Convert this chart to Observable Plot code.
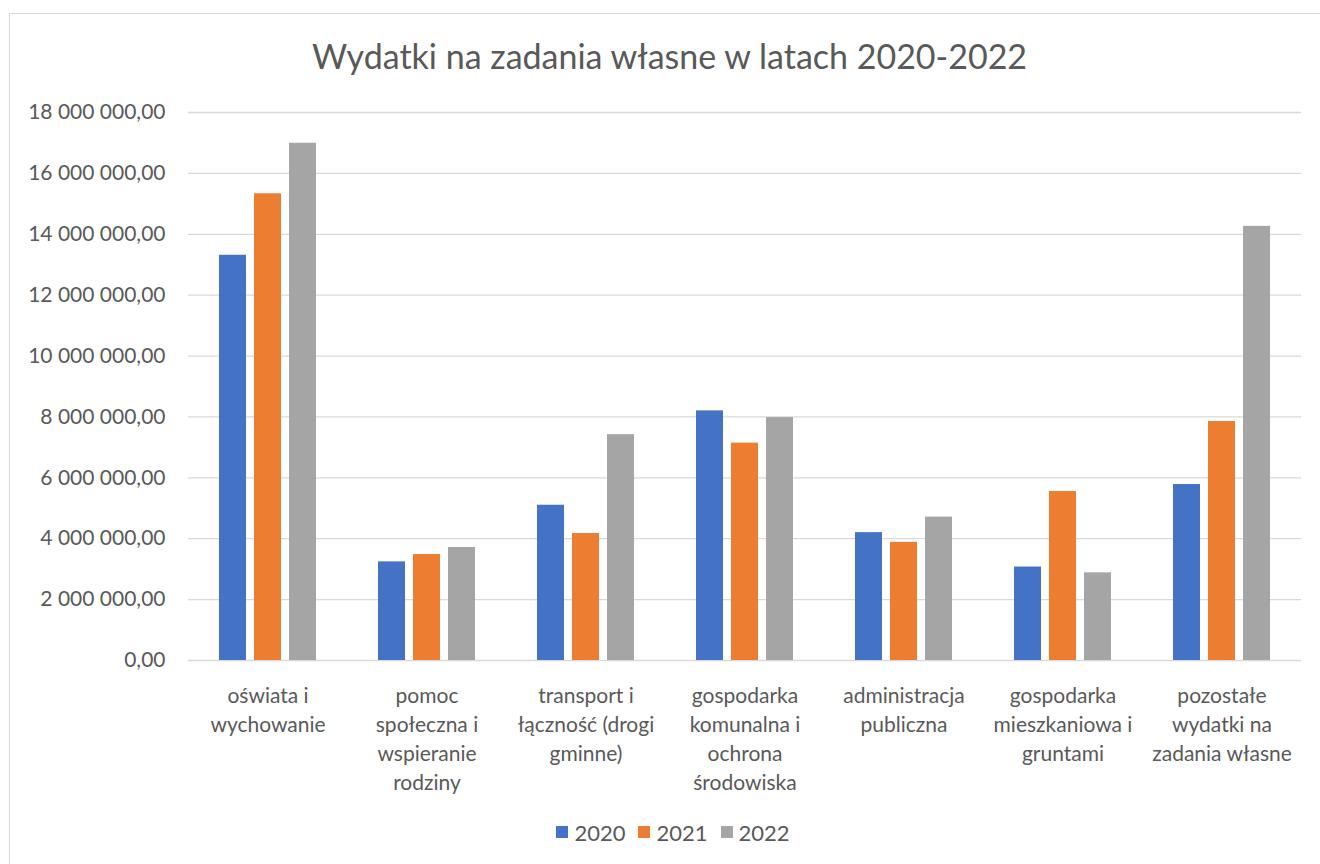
<!DOCTYPE html>
<html>
<head>
<meta charset="utf-8">
<script src="https://cdn.jsdelivr.net/npm/d3@7"></script>
<script src="https://cdn.jsdelivr.net/npm/@observablehq/plot@0.6"></script>
<style>
  html, body { margin: 0; padding: 0; background: #fff; overflow: hidden; width: 1320px; height: 864px; }
  #frame { position: absolute; left: 9px; top: 13px; width: 1340px; height: 900px; border: 1px solid #d9d9d9; box-sizing: border-box; z-index: 2; pointer-events: none; }
  #page { position: absolute; left: 0; top: 0; width: 1320px; font-family: Lato, "Open Sans", sans-serif; color: #595959; z-index: 1; }
  #title { height: 90px; line-height: 112px; text-align: center; font-size: 34px; padding-left: 19px; box-sizing: border-box; white-space: nowrap; }
  #chart svg { display: block; }
  #legend { height: 44px; display: flex; justify-content: center; align-items: center; gap: 13px; font-size: 22px; padding-left: 26px; }
  .item { display: flex; align-items: center; gap: 6px; }
  .sw { width: 12px; height: 12px; display: inline-block; }
</style>
</head>
<body>
<div id="page">
  <div id="title">Wydatki na zadania własne w latach 2020-2022</div>
  <div id="chart"></div>
  <div id="legend"></div>
</div>
<div id="frame"></div>
<script>
const categories = [
  "oświata i wychowanie",
  "pomoc społeczna i wspieranie rodziny",
  "transport i łączność (drogi gminne)",
  "gospodarka komunalna i ochrona środowiska",
  "administracja publiczna",
  "gospodarka mieszkaniowa i gruntami",
  "pozostałe wydatki na zadania własne"
];
const categoryLines = [
  ["oświata i", "wychowanie"],
  ["pomoc", "społeczna i", "wspieranie", "rodziny"],
  ["transport i", "łączność (drogi", "gminne)"],
  ["gospodarka", "komunalna i", "ochrona", "środowiska"],
  ["administracja", "publiczna"],
  ["gospodarka", "mieszkaniowa i", "gruntami"],
  ["pozostałe", "wydatki na", "zadania własne"]
];
const years = ["2020", "2021", "2022"];
const values2020 = [13310000, 3240000, 5100000, 8200000, 4200000, 3070000, 5780000];
const values2021 = [15330000, 3480000, 4170000, 7140000, 3880000, 5550000, 7850000];
const values2022 = [16990000, 3710000, 7420000, 7980000, 4710000, 2880000, 14260000];
const yTicks = [0, 2000000, 4000000, 6000000, 8000000, 10000000, 12000000, 14000000, 16000000, 18000000];
const colors = ["#4472C4", "#ED7D31", "#A5A5A5"];

const series = [values2020, values2021, values2022];
const rows = [];
categories.forEach((c, i) => {
  years.forEach((y, j) => rows.push({category: c, year: y, value: series[j][i]}));
});
const labelOf = new Map(categories.map((c, i) => [c, categoryLines[i].join("\n")]));
const plFormat = d3.formatLocale({decimal: ",", thousands: "\u00a0", grouping: [3], currency: ["", ""]}).format(",.2f");

const chart = Plot.plot({
  width: 1320,
  height: 720,
  marginLeft: 188,
  marginRight: 19,
  marginTop: 22,
  marginBottom: 150,
  style: {fontFamily: "Lato, 'Open Sans', sans-serif", color: "#595959", background: "transparent"},
  fx: {domain: categories, padding: 0, label: null},
  x: {domain: years, paddingInner: 0.215, paddingOuter: 0.86, axis: null},
  y: {domain: [0, 18000000], label: null},
  color: {domain: years, range: colors},
  marks: [
    Plot.ruleY(yTicks, {stroke: "#d9d9d9", strokeWidth: 1.3}),
    Plot.barY(rows, {fx: "category", x: "year", y: "value", fill: "year"}),
    Plot.axisY({ticks: yTicks, tickSize: 0, tickPadding: 23, fontSize: 21, tickFormat: plFormat, label: null, fill: "#595959"}),
    Plot.axisFx({anchor: "bottom", tickSize: 0, tickPadding: 22, fontSize: 21, lineHeight: 1.38, tickFormat: d => labelOf.get(d), label: null, fill: "#595959"})
  ]
});
document.getElementById("chart").appendChild(chart);

const legend = document.getElementById("legend");
years.forEach((y, i) => {
  const item = document.createElement("div");
  item.className = "item";
  const sw = document.createElement("span");
  sw.className = "sw";
  sw.style.background = colors[i];
  const t = document.createElement("span");
  t.textContent = y;
  item.appendChild(sw);
  item.appendChild(t);
  legend.appendChild(item);
});
</script>
</body>
</html>
